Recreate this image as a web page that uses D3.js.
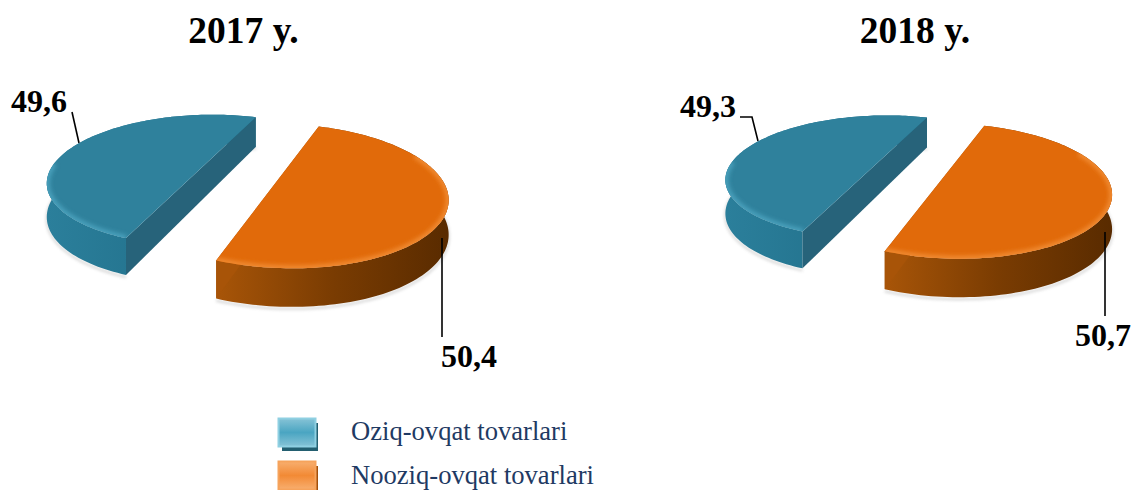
<!DOCTYPE html>
<html><head><meta charset="utf-8">
<script src="https://cdn.jsdelivr.net/npm/d3@7"></script>
<style>html,body{margin:0;padding:0;background:#fff;overflow:hidden}svg{display:block}text{font-family:"Liberation Serif",serif}</style>
</head><body><svg id="c" width="1134" height="490"></svg>
<script>
const years = ["2017 y.", "2018 y."];
const categories = ["Oziq-ovqat tovarlari", "Nooziq-ovqat tovarlari"];
const values2017 = [49.6, 50.4];
const values2018 = [49.3, 50.7];
const labels2017 = ["49,6", "50,4"];
const labels2018 = ["49,3", "50,7"];

// camera of each tilted pie
const views = [
  {tx:243.5, cx:242.5, cy:172, R:157, Q:65, p:.229, ex:.237, ey:.106, h:33, rot:201.4,
   lab:[[11,112],[441,367]], lead:[[[72,112],[79,143]],[[442,238],[442,337]]]},
  {tx:915, cx:914, cy:169, R:153, Q:61, p:.229, ex:.222, ey:.10, h:33, rot:201.6,
   lab:[[680,117],[1075,346]], lead:[[[740,117],[752,117],[758,141]],[[1105,232],[1105,316]]]}
];
const styles = [
  {top:"#2f819c", face:"#27637a", rim:"#48a0bc", wall:["#2b7f9b","#24748f","#1f6c86"], rimFrom:0, rimTo:48},
  {top:"#e16a0a", face:"#a85408", rim:"#f08a30", wall:["#a85508","#7a3c02","#592b00"], rimFrom:32, rimTo:121}
];

const svg = d3.select("#c");
const defs = svg.append("defs");
defs.append("filter").attr("id","blur").attr("x","-20%").attr("y","-20%").attr("width","140%").attr("height","140%")
  .append("feGaussianBlur").attr("stdDeviation",2);
defs.append("filter").attr("id","soft").attr("x","-20%").attr("y","-20%").attr("width","140%").attr("height","140%")
  .append("feGaussianBlur").attr("stdDeviation",1.5);
styles.forEach((s,i)=>{
  const g = defs.append("linearGradient").attr("id","wall"+i);
  s.wall.forEach((c,k)=>g.append("stop").attr("offset",k/(s.wall.length-1)).attr("stop-color",c));
});
const line = d3.line();

function drawPie(vals, labs, v, idx){
  const g = svg.append("g");
  const pie = d3.pie().sort(null).startAngle(v.rot*Math.PI/180).endAngle(v.rot*Math.PI/180+2*Math.PI)(vals);
  pie.forEach((a,i)=>{
    const dir = i===0 ? -1 : 1;
    const proj = (X,Y)=>{const px=X+dir*v.ex, py=Y+dir*v.ey, w=1-v.p*py;
      return {x:v.cx+v.R*px/w, y:v.cy+v.Q*py/w, w};};
    const ts = d3.range(0,121).map(k=>a.startAngle+(a.endAngle-a.startAngle)*k/120);
    const arc = ts.map(t=>proj(Math.sin(t),-Math.cos(t)));
    const drop = q=>q.y+v.h*(.5+.5/q.w);
    const topPts = arc.map(q=>[q.x,q.y]);
    const botPts = arc.map(q=>[q.x,drop(q)]);
    // soft shadow
    g.append("path").attr("d",line(botPts.map(q=>[q[0],q[1]+2]))).attr("fill","none").attr("stroke","#999")
      .attr("stroke-width",2).attr("opacity",.45).attr("filter","url(#soft)");
    // outer wall
    g.append("path").attr("d",line(topPts.concat(botPts.slice().reverse()))+"Z").attr("fill",`url(#wall${i})`);
    // cut face
    const A=arc[0], B=arc[arc.length-1];
    g.append("path").attr("d",line([[A.x,A.y],[B.x,B.y],[B.x,drop(B)],[A.x,drop(A)]])+"Z").attr("fill",styles[i].face);
    // top
    const id=`clip${idx}${i}`;
    g.append("clipPath").attr("id",id).append("path").attr("d",line(topPts)+"Z");
    g.append("path").attr("d",line(topPts)+"Z").attr("fill",styles[i].top);
    g.append("g").attr("clip-path",`url(#${id})`).append("path")
      .attr("d",line(topPts.slice(styles[i].rimFrom, styles[i].rimTo))).attr("fill","none")
      .attr("stroke",styles[i].rim).attr("stroke-width",6).attr("filter","url(#blur)");
  });
  // titles, leaders, labels
  svg.append("text").attr("x",v.tx).attr("y",43).attr("text-anchor","middle")
    .attr("font-size",37.5).attr("font-weight","bold").attr("fill","#000").text(years[idx]);
  v.lead.forEach(l=>svg.append("path").attr("d",line(l)).attr("fill","none").attr("stroke","#000").attr("stroke-width",1.6));
  labs.forEach((t,i)=>svg.append("text").attr("x",v.lab[i][0]).attr("y",v.lab[i][1])
    .attr("font-size",32).attr("font-weight","bold").attr("fill","#000").text(t));
}
drawPie(values2017, labels2017, views[0], 0);
drawPie(values2018, labels2018, views[1], 1);

// legend
const swatch = [
  {edge:"#8fd0e2", fill:"#4aa5c2", hi:"#86c3d6", shadow:"#235f70"},
  {edge:"#f6a35c", fill:"#f28a35", hi:"#f8ae6f", shadow:"#a24f0a"}
];
const lg = defs.append("linearGradient").attr("id","sw0").attr("x2",0).attr("y2",1);
[[0,swatch[0].hi],[.5,swatch[0].fill],[1,swatch[0].hi]].forEach(s=>lg.append("stop").attr("offset",s[0]).attr("stop-color",s[1]));
const lo = defs.append("linearGradient").attr("id","sw1").attr("x2",0).attr("y2",1);
[[0,swatch[1].hi],[.5,swatch[1].fill],[1,swatch[1].hi]].forEach(s=>lo.append("stop").attr("offset",s[0]).attr("stop-color",s[1]));
const ly = d3.scalePoint().domain(categories).range([418,461]);
const ty = d3.scalePoint().domain(categories).range([440,483.5]);
categories.forEach((c,i)=>{
  const y=ly(c), s=swatch[i];
  svg.append("rect").attr("x",282).attr("y",y+5).attr("width",36).attr("height",28).attr("fill",s.shadow);
  svg.append("rect").attr("x",278.5).attr("y",y+.5).attr("width",37).attr("height",28).attr("fill",`url(#sw${i})`)
    .attr("stroke",s.edge).attr("stroke-width",2);
  svg.append("text").attr("x",351).attr("y",ty(c)).attr("font-size",26.6).attr("fill","#1f3a63").text(c);
});
</script></body></html>
